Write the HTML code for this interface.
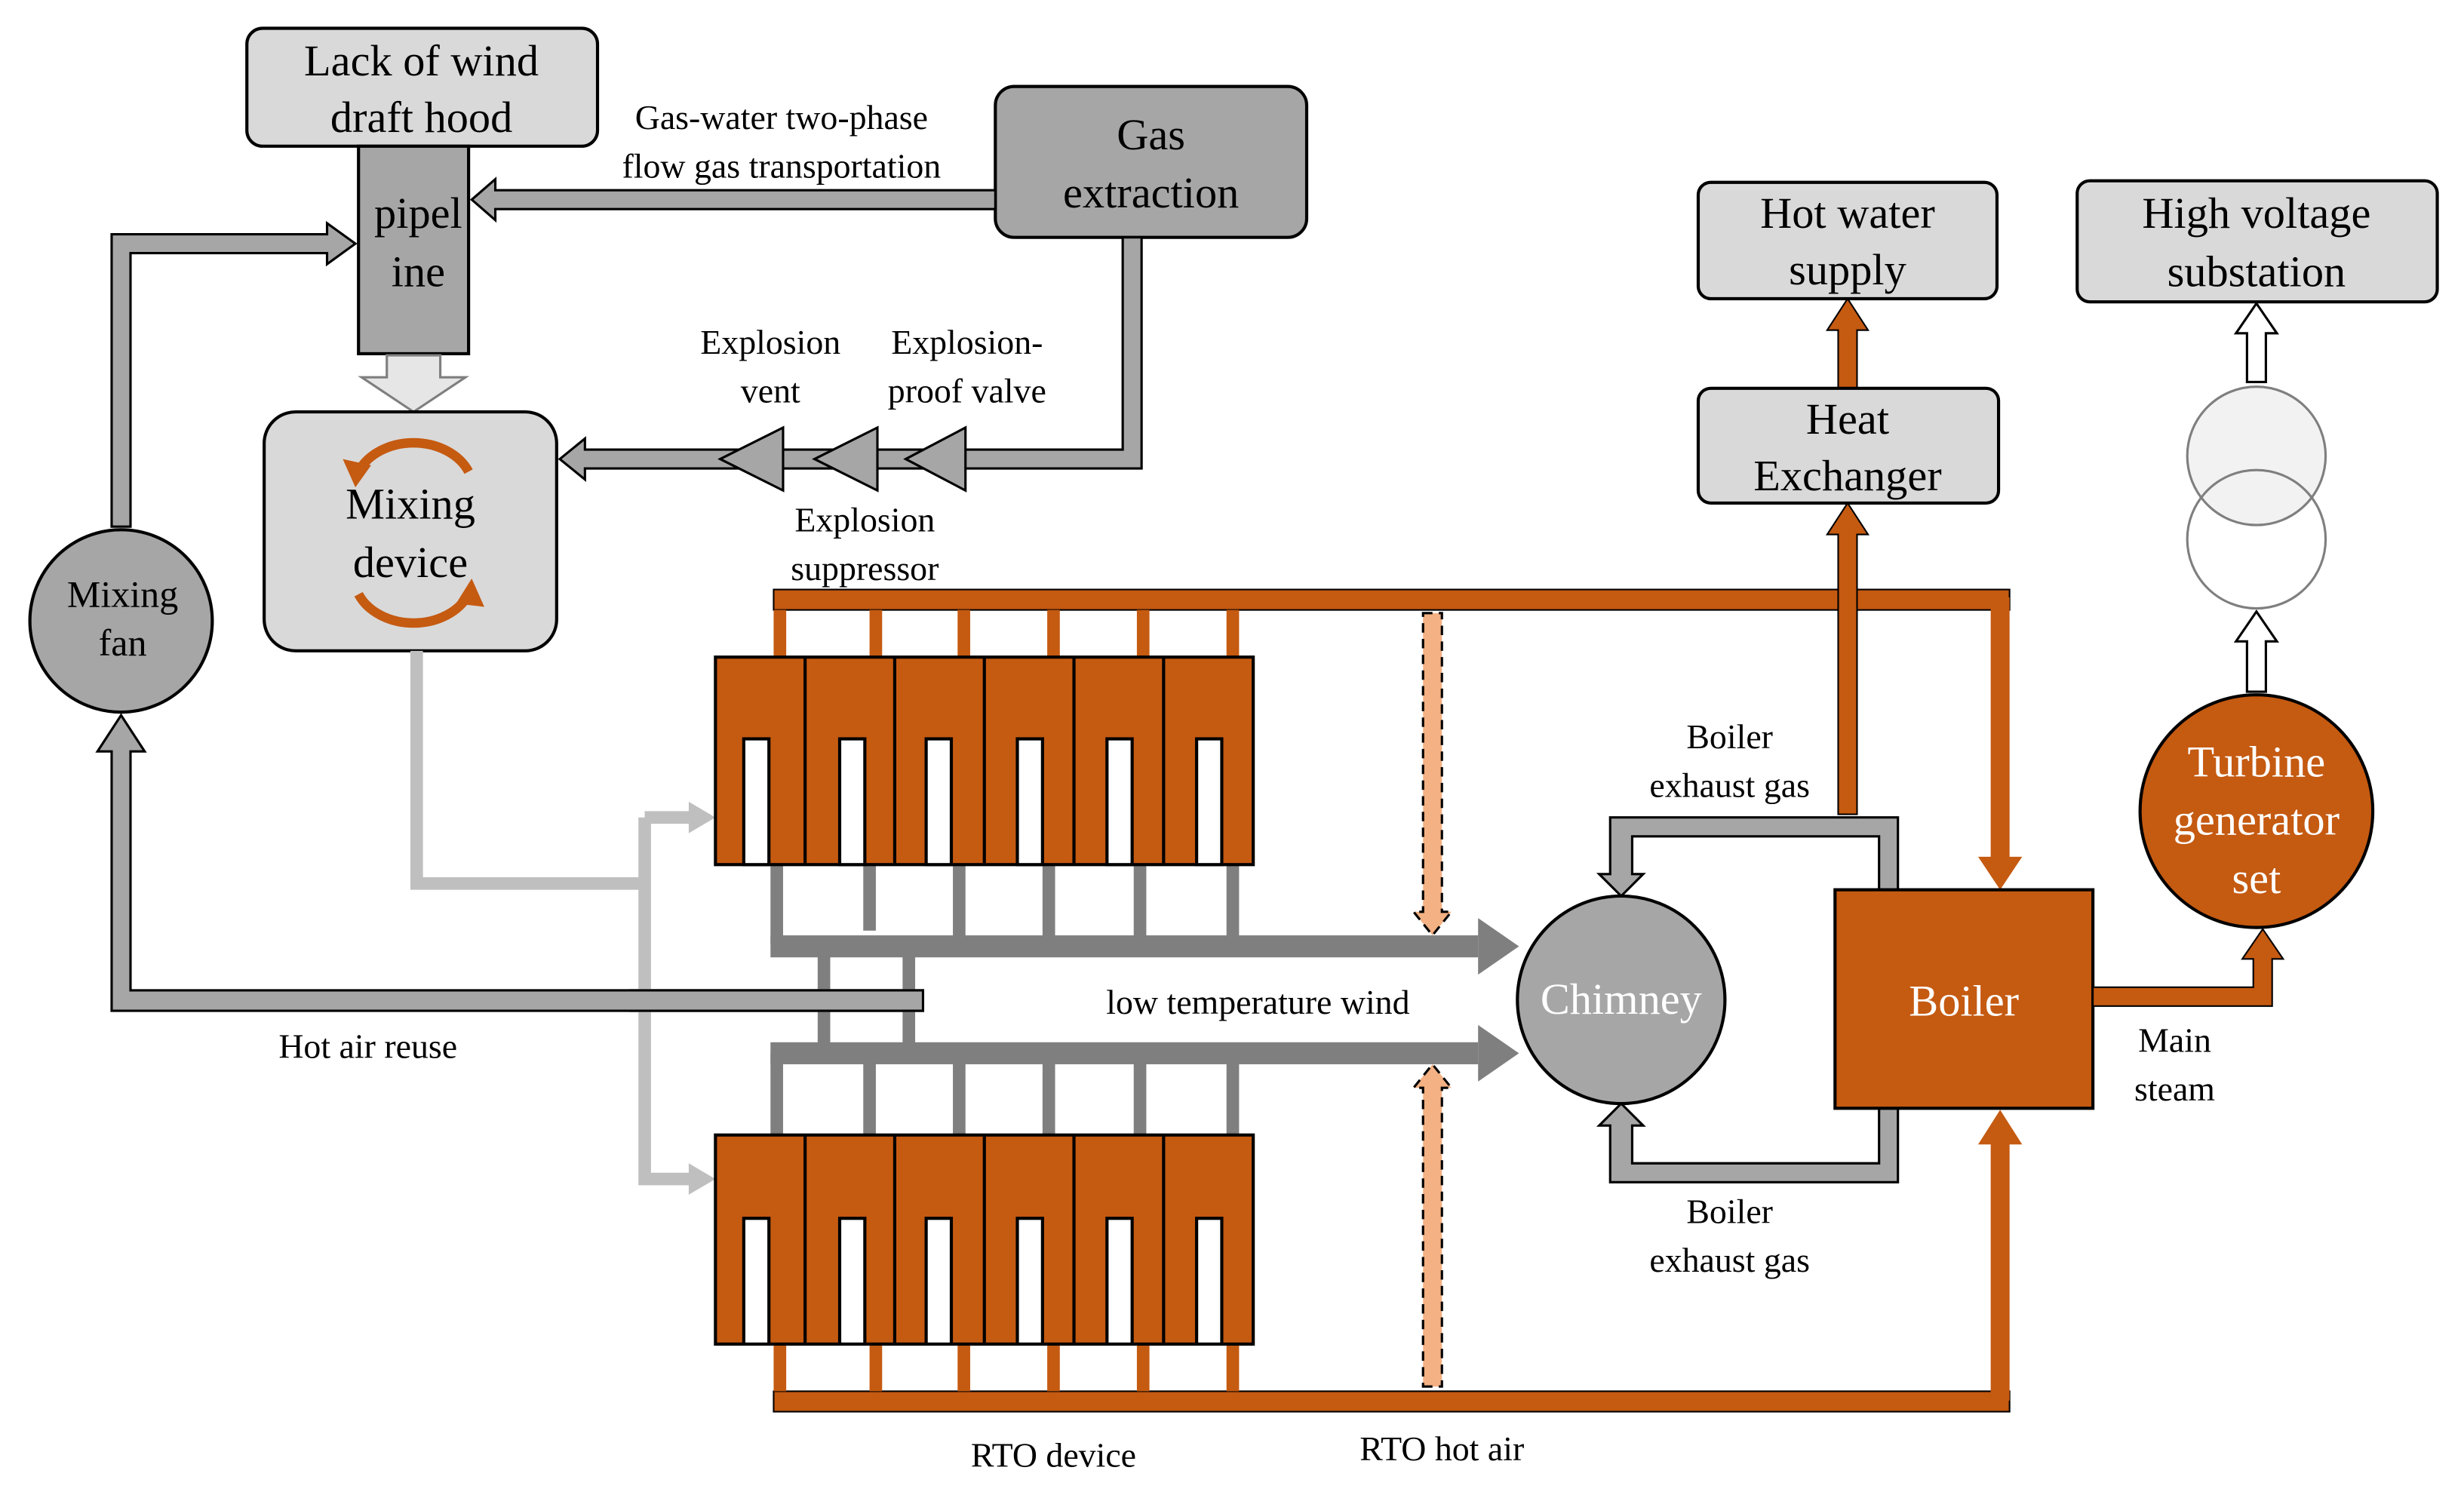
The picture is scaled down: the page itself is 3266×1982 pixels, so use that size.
<!DOCTYPE html>
<html><head><style>html,body{margin:0;padding:0;background:#fff}svg{display:block}</style></head><body>
<svg width="3266" height="1982" viewBox="0 0 1567 951" preserveAspectRatio="none" xmlns="http://www.w3.org/2000/svg" font-family="Liberation Serif, serif">
<!-- Lack of wind box -->
<rect x="157" y="18" width="223" height="75" rx="10" fill="#d9d9d9" stroke="#000" stroke-width="2"/>
<text x="268" y="48" font-size="28" text-anchor="middle">Lack of wind</text>
<text x="268" y="84" font-size="28" text-anchor="middle">draft hood</text>
<!-- pipeline -->
<rect x="228" y="93" width="70" height="132" fill="#a6a6a6" stroke="#000" stroke-width="2"/>
<text x="266" y="145" font-size="28" text-anchor="middle">pipel</text>
<text x="266" y="182" font-size="28" text-anchor="middle">ine</text>
<!-- gas extraction -->
<rect x="633" y="55" width="198" height="96" rx="12" fill="#a6a6a6" stroke="#000" stroke-width="2"/>
<text x="732" y="95" font-size="28" text-anchor="middle">Gas</text>
<text x="732" y="132" font-size="28" text-anchor="middle">extraction</text>
<path d="M633,121 L315,121 L315,114 L300,127 L315,140 L315,133 L633,133 Z" fill="#a6a6a6" stroke="#000" stroke-width="1.5"/>
<text x="497" y="82" font-size="22" text-anchor="middle">Gas-water two-phase</text>
<text x="497" y="113" font-size="22" text-anchor="middle">flow gas transportation</text>
<path d="M246,226 L280,226 L280,240 L296,240 L263,262 L230,240 L246,240 Z" fill="#e6e6e6" stroke="#7f7f7f" stroke-width="1.5"/>
<!-- Mixing device -->
<rect x="168" y="262" width="186" height="152" rx="20" fill="#d9d9d9" stroke="#000" stroke-width="2"/>
<path d="M228,300 A38,30 0 0 1 298,300" fill="none" stroke="#c55a11" stroke-width="6"/>
<path d="M218,292 L226,310 L236,296 Z" fill="#c55a11"/>
<path d="M228,378 A38,30 0 0 0 298,378" fill="none" stroke="#c55a11" stroke-width="6"/>
<path d="M290,384 L300,368 L308,386 Z" fill="#c55a11"/>
<text x="261" y="330" font-size="28" text-anchor="middle">Mixing</text>
<text x="261" y="367" font-size="28" text-anchor="middle">device</text>
<path d="M714,151 L726,151 L726,298 L372,298 L372,305 L356,292 L372,279 L372,286 L714,286 Z" fill="#a6a6a6" stroke="#000" stroke-width="1.5"/>
<polygon points="458,292 498,272 498,312" fill="#a6a6a6" stroke="#000" stroke-width="1.5"/>
<polygon points="518,292 558,272 558,312" fill="#a6a6a6" stroke="#000" stroke-width="1.5"/>
<polygon points="576,292 614,272 614,312" fill="#a6a6a6" stroke="#000" stroke-width="1.5"/>
<text x="490" y="225" font-size="22" text-anchor="middle">Explosion</text>
<text x="490" y="256" font-size="22" text-anchor="middle">vent</text>
<text x="615" y="225" font-size="22" text-anchor="middle">Explosion-</text>
<text x="615" y="256" font-size="22" text-anchor="middle">proof valve</text>
<text x="550" y="338" font-size="22" text-anchor="middle">Explosion</text>
<text x="550" y="369" font-size="22" text-anchor="middle">suppressor</text>
<!-- mixing fan -->
<circle cx="77" cy="395" r="58" fill="#a6a6a6" stroke="#000" stroke-width="2"/>
<text x="78" y="386" font-size="24" text-anchor="middle">Mixing</text>
<text x="78" y="417" font-size="24" text-anchor="middle">fan</text>
<path d="M71,335 L71,149 L208,149 L208,142 L226,155 L208,168 L208,161 L83,161 L83,335 Z" fill="#a6a6a6" stroke="#000" stroke-width="1.5"/>
<path d="M587,630 L587,643 L71,643 L71,478 L62,478 L77,455 L92,478 L83,478 L83,630 Z" fill="#a6a6a6" stroke="#000" stroke-width="1.5"/>
<text x="234" y="673" font-size="22" text-anchor="middle">Hot air reuse</text>
<g fill="none" stroke="#bfbfbf" stroke-width="8">
<path d="M265,414 L265,562 L410,562"/>
<path d="M410,520 L410,750 L440,750"/>
<path d="M410,520 L440,520"/>
</g>
<polygon points="438,510 455,520 438,530" fill="#bfbfbf"/>
<polygon points="438,740 455,750 438,760" fill="#bfbfbf"/>
<g fill="#7f7f7f">
<rect x="490" y="550" width="8" height="50"/><rect x="549" y="550" width="8" height="42"/><rect x="606" y="550" width="8" height="50"/><rect x="663" y="550" width="8" height="50"/><rect x="721" y="550" width="8" height="50"/><rect x="780" y="550" width="8" height="50"/>
<rect x="490" y="670" width="8" height="52"/><rect x="549" y="670" width="8" height="52"/><rect x="606" y="670" width="8" height="52"/><rect x="663" y="670" width="8" height="52"/><rect x="721" y="670" width="8" height="52"/><rect x="780" y="670" width="8" height="52"/>
<rect x="490" y="595" width="450" height="14"/>
<polygon points="940,584 966,602 940,620"/>
<rect x="490" y="663" width="450" height="14"/>
<polygon points="940,652 966,670 940,688"/>
<rect x="520" y="605" width="8" height="62"/><rect x="574" y="605" width="8" height="62"/>
</g>
<path d="M400,630 L587,630 L587,643 L400,643" fill="#a6a6a6" stroke="#000" stroke-width="1.5"/>
<text x="800" y="645" font-size="22" text-anchor="middle">low temperature wind</text>
<g fill="#c55a11">
<rect x="492" y="375" width="786" height="13" stroke="#000" stroke-width="1"/>
<rect x="1266" y="380" width="12" height="168"/>
<polygon points="1258,545 1286,545 1272,566"/>
<rect x="492" y="885" width="786" height="13" stroke="#000" stroke-width="1"/>
<rect x="1266" y="725" width="12" height="166"/>
<polygon points="1258,728 1286,728 1272,706"/>
<rect x="492" y="388" width="8" height="30"/><rect x="553" y="388" width="8" height="30"/><rect x="609" y="388" width="8" height="30"/><rect x="666" y="388" width="8" height="30"/><rect x="723" y="388" width="8" height="30"/><rect x="780" y="388" width="8" height="30"/>
<rect x="492" y="855" width="8" height="30"/><rect x="553" y="855" width="8" height="30"/><rect x="609" y="855" width="8" height="30"/><rect x="666" y="855" width="8" height="30"/><rect x="723" y="855" width="8" height="30"/><rect x="780" y="855" width="8" height="30"/>
</g>
<g stroke="#000" stroke-width="2">
<rect x="455" y="418" width="342" height="132" fill="#c55a11"/>
<rect x="455" y="722" width="342" height="133" fill="#c55a11"/>
<g fill="#fff">
<rect x="473" y="470" width="16" height="80"/><rect x="534" y="470" width="16" height="80"/><rect x="589" y="470" width="16" height="80"/><rect x="647" y="470" width="16" height="80"/><rect x="704" y="470" width="16" height="80"/><rect x="761" y="470" width="16" height="80"/>
<rect x="473" y="775" width="16" height="80"/><rect x="534" y="775" width="16" height="80"/><rect x="589" y="775" width="16" height="80"/><rect x="647" y="775" width="16" height="80"/><rect x="704" y="775" width="16" height="80"/><rect x="761" y="775" width="16" height="80"/>
</g>
<g fill="none"><line x1="512" y1="418" x2="512" y2="550"/><line x1="569" y1="418" x2="569" y2="550"/><line x1="626" y1="418" x2="626" y2="550"/><line x1="683" y1="418" x2="683" y2="550"/><line x1="740" y1="418" x2="740" y2="550"/>
<line x1="512" y1="722" x2="512" y2="855"/><line x1="569" y1="722" x2="569" y2="855"/><line x1="626" y1="722" x2="626" y2="855"/><line x1="683" y1="722" x2="683" y2="855"/><line x1="740" y1="722" x2="740" y2="855"/></g>
</g>
<g fill="#f4b183" stroke="#000" stroke-width="1.5" stroke-dasharray="6,4">
<path d="M905,390 L917,390 L917,580 L923,580 L911,595 L899,580 L905,580 Z"/>
<path d="M905,882 L917,882 L917,692 L923,692 L911,677 L899,692 L905,692 Z"/>
</g>
<text x="670" y="933" font-size="22" text-anchor="middle">RTO device</text>
<text x="917" y="929" font-size="22" text-anchor="middle">RTO hot air</text>
<circle cx="1031" cy="636" r="66" fill="#a6a6a6" stroke="#000" stroke-width="2"/>
<text x="1031" y="645" font-size="28" fill="#fff" text-anchor="middle">Chimney</text>
<path d="M1207,566 L1207,520 L1024,520 L1024,556 L1017,556 L1031,570 L1045,556 L1038,556 L1038,532 L1195,532 L1195,566 Z" fill="#a6a6a6" stroke="#000" stroke-width="1.5"/>
<path d="M1207,705 L1207,752 L1024,752 L1024,716 L1017,716 L1031,702 L1045,716 L1038,716 L1038,740 L1195,740 L1195,705 Z" fill="#a6a6a6" stroke="#000" stroke-width="1.5"/>
<text x="1100" y="476" font-size="22" text-anchor="middle">Boiler</text>
<text x="1100" y="507" font-size="22" text-anchor="middle">exhaust gas</text>
<text x="1100" y="778" font-size="22" text-anchor="middle">Boiler</text>
<text x="1100" y="809" font-size="22" text-anchor="middle">exhaust gas</text>
<rect x="1167" y="566" width="164" height="139" fill="#c55a11" stroke="#000" stroke-width="2"/>
<text x="1249" y="646" font-size="28" fill="#fff" text-anchor="middle">Boiler</text>
<g fill="#c55a11" stroke="#000" stroke-width="1">
<path d="M1169,518 L1181,518 L1181,340 L1188,340 L1175,320 L1162,340 L1169,340 Z"/>
<path d="M1169,247 L1181,247 L1181,210 L1188,210 L1175,190 L1162,210 L1169,210 Z"/>
</g>
<rect x="1080" y="247" width="191" height="73" rx="8" fill="#d9d9d9" stroke="#000" stroke-width="2"/>
<text x="1175" y="276" font-size="28" text-anchor="middle">Heat</text>
<text x="1175" y="312" font-size="28" text-anchor="middle">Exchanger</text>
<rect x="1080" y="116" width="190" height="74" rx="8" fill="#d9d9d9" stroke="#000" stroke-width="2"/>
<text x="1175" y="145" font-size="28" text-anchor="middle">Hot water</text>
<text x="1175" y="181" font-size="28" text-anchor="middle">supply</text>
<rect x="1321" y="115" width="229" height="77" rx="8" fill="#d9d9d9" stroke="#000" stroke-width="2"/>
<text x="1435" y="145" font-size="28" text-anchor="middle">High voltage</text>
<text x="1435" y="182" font-size="28" text-anchor="middle">substation</text>
<circle cx="1435" cy="290" r="44" fill="#f2f2f2" stroke="#7f7f7f" stroke-width="1.5"/>
<circle cx="1435" cy="343" r="44" fill="none" stroke="#7f7f7f" stroke-width="1.5"/>
<g fill="#fff" stroke="#000" stroke-width="1.5">
<path d="M1429,243 L1441,243 L1441,212 L1448,212 L1435,193 L1422,212 L1429,212 Z"/>
<path d="M1429,440 L1441,440 L1441,408 L1448,408 L1435,389 L1422,408 L1429,408 Z"/>
</g>
<circle cx="1435" cy="516" r="74" fill="#c55a11" stroke="#000" stroke-width="2"/>
<text x="1435" y="494" font-size="28" fill="#fff" text-anchor="middle">Turbine</text>
<text x="1435" y="531" font-size="28" fill="#fff" text-anchor="middle">generator</text>
<text x="1435" y="568" font-size="28" fill="#fff" text-anchor="middle">set</text>
<path d="M1331,628 L1433,628 L1433,610 L1426,610 L1439,591 L1452,610 L1445,610 L1445,640 L1331,640 Z" fill="#c55a11" stroke="#000" stroke-width="1"/>
<text x="1383" y="669" font-size="22" text-anchor="middle">Main</text>
<text x="1383" y="700" font-size="22" text-anchor="middle">steam</text>
</svg>
</body></html>
